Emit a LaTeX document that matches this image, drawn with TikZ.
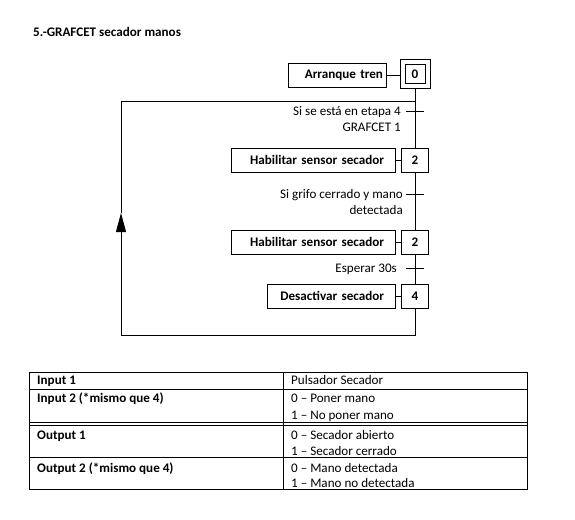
\documentclass[tikz,border=0pt]{standalone}
\usepackage{fontspec}
\setmainfont{Carlito}
\usetikzlibrary{arrows.meta,fit}
\begin{document}
\begin{tikzpicture}[x=1pt,y=-1pt,
  txt/.style={font=\fontsize{13.1}{16}\selectfont, inner sep=0pt},
  btxt/.style={font=\fontsize{13.1}{16}\selectfont\bfseries, inner sep=0pt},
  ln/.style={line width=0.9pt},
  stepbox/.style={draw, ln, btxt, minimum width=27pt, minimum height=24pt},
  actbox/.style={draw, ln, btxt, minimum height=24pt, align=right, inner xsep=11pt},
  lbl/.style={txt, anchor=base east, align=right},
  cellL/.style={btxt, anchor=base west},
  cellR/.style={txt, anchor=base west}]
\useasboundingbox (0,0) rectangle (575,519);
% title
\node[btxt, anchor=base west] (title) at (33,37) {5.-GRAFCET secador manos};
% steps
\node[draw, ln, btxt, minimum width=20pt, minimum height=19pt] (s0) at (415,74) {0};
\node[draw, ln, fit=(s0), inner sep=4.5pt] (s0o) {};
\node[stepbox] (s2a) at (415,160) {2};
\node[stepbox] (s2b) at (415,242) {2};
\node[stepbox] (s4) at (415,296) {4};
% actions
\node[actbox, inner xsep=3pt, text width=92pt] (a0) at (337,75) {Arranque tren};
\node[actbox, text width=142pt] (a2a) at (313,160) {Habilitar sensor secador};
\node[actbox, text width=142pt] (a2b) at (313,242) {Habilitar sensor secador};
\node[actbox, text width=106pt] (a4) at (331,296) {Desactivar secador};
\draw[ln] (a0.east) -- (a0.east -| s0o.west);
\draw[ln] (a2a) -- (s2a);
\draw[ln] (a2b) -- (s2b);
\draw[ln] (a4) -- (s4);
% main line
\coordinate (tr) at (415,101);
\coordinate (tl) at (121,101);
\coordinate (tip) at (121,213);
\coordinate (bl) at (121,335);
\coordinate (br) at (415,335);
\coordinate (t1) at (415,111);
\coordinate (t2) at (415,194);
\coordinate (t3) at (415,268);
\draw[ln] (s0o.south) -- (s2a.north);
\draw[ln] (s2a.south) -- (s2b.north);
\draw[ln] (s2b.south) -- (s4.north);
\draw[ln] (s4.south) -- (br) -- (bl);
\draw[ln, -{Triangle[width=10pt,length=19pt]}] (bl) -- (tip);
\draw[ln] (tip) -- (tl) -- (tr);
% transitions
\draw[ln] ([xshift=-9pt]t1) -- ([xshift=9pt]t1);
\draw[ln] ([xshift=-9pt]t2) -- ([xshift=9pt]t2);
\draw[ln] ([xshift=-9pt]t3) -- ([xshift=9pt]t3);
\node[lbl] (l1) at (401,131.5) {Si se está en etapa 4\\GRAFCET 1};
\node[lbl] (l2) at (403,214.5) {Si grifo cerrado y mano\\detectada};
\node[lbl] (l3) at (397,272.5) {Esperar 30s};
% table
\draw[ln] (29,372) rectangle (527,489);
\draw[ln] (283,372) -- (283,489);
\draw[ln] (29,389) -- (527,389);
\draw[ln] (29,422) -- (527,422);
\draw[ln] (29,425) -- (527,425);
\draw[ln] (29,457) -- (527,457);
\node[cellL] (c1) at (37,384.5) {Input 1};
\node[cellL] (c2) at (37,402.5) {Input 2 (*mismo que 4)};
\node[cellL] (c3) at (37,439.5) {Output 1};
\node[cellL] (c4) at (37,472.5) {Output 2 (*mismo que 4)};
\node[cellR] (d1) at (291,384.5) {Pulsador Secador};
\node[cellR] (d2) at (291,402.5) {0 – Poner mano};
\node[cellR] (d3) at (291,419.5) {1 – No poner mano};
\node[cellR] (d4) at (291,439.5) {0 – Secador abierto};
\node[cellR] (d5) at (291,455.5) {1 – Secador cerrado};
\node[cellR] (d6) at (291,472.5) {0 – Mano detectada};
\node[cellR] (d7) at (291,487) {1 – Mano no detectada};
\end{tikzpicture}
\end{document}
